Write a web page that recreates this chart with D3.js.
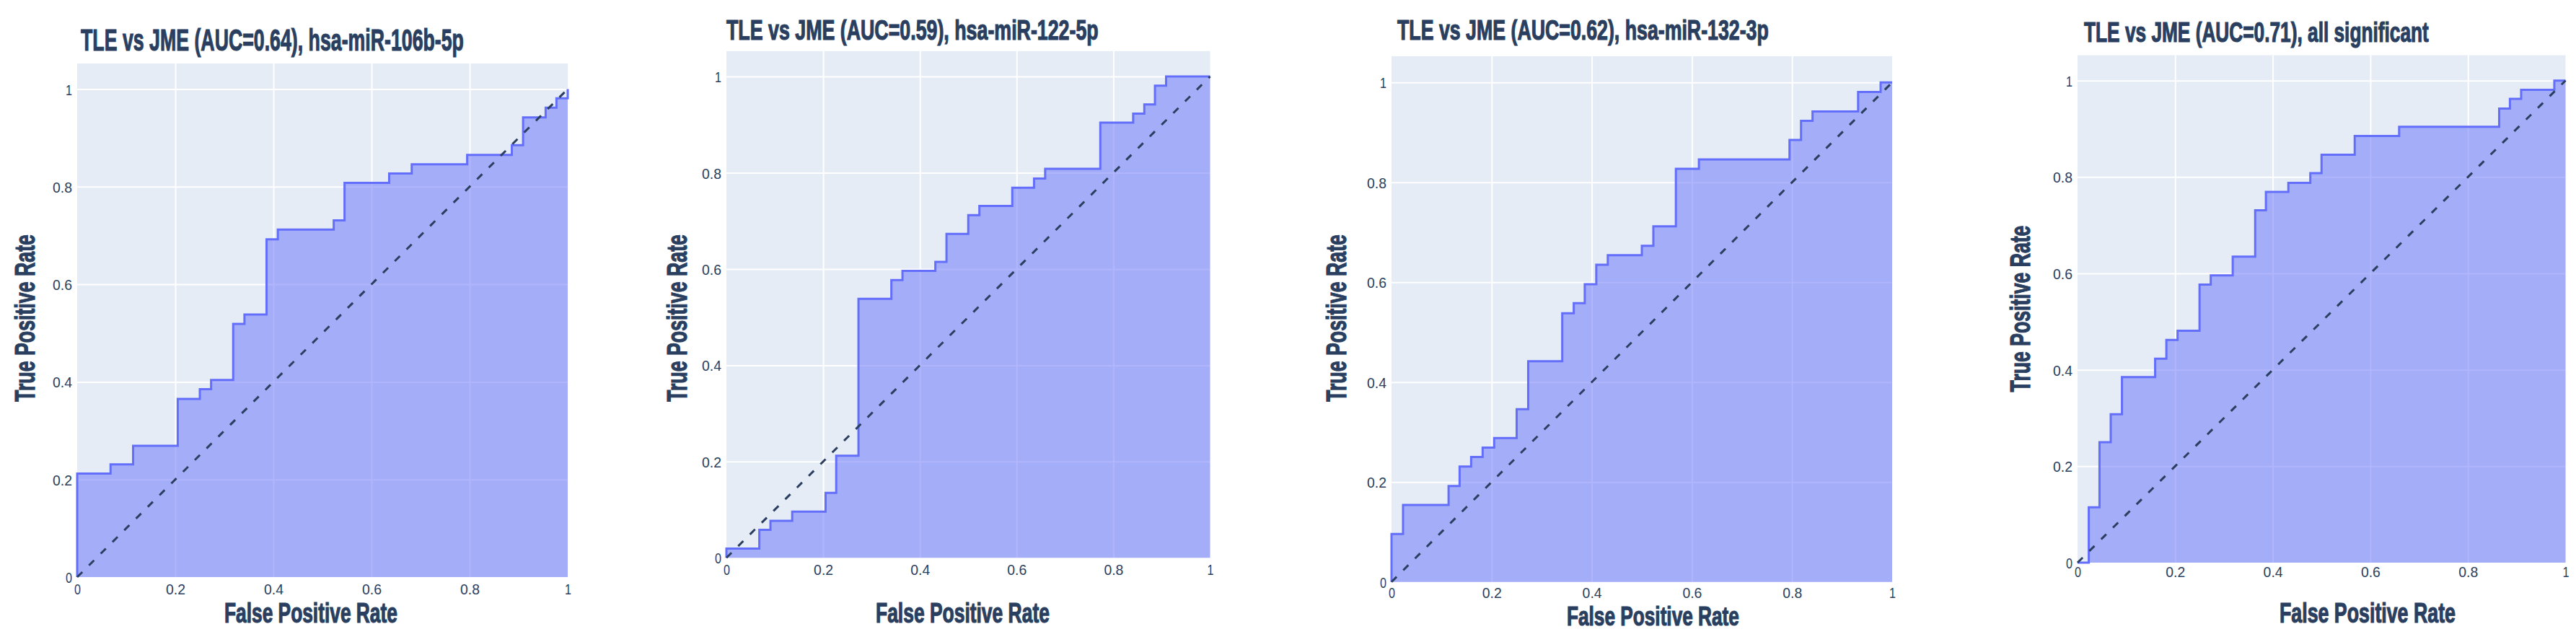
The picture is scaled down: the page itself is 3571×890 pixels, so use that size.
<!DOCTYPE html>
<html>
<head>
<meta charset="utf-8">
<script src="https://cdnjs.cloudflare.com/ajax/libs/d3/7.8.5/d3.min.js"></script>
<style>
  body { margin: 0; background: #fff; }
  svg { display: block; }
</style>
</head>
<body>
<svg id="chart" width="3571" height="890"></svg>
<script>
// Titles of the four ROC panels
const titles = [
  "TLE vs JME (AUC=0.64), hsa-miR-106b-5p",
  "TLE vs JME (AUC=0.59), hsa-miR-122-5p",
  "TLE vs JME (AUC=0.62), hsa-miR-132-3p",
  "TLE vs JME (AUC=0.71), all significant"
];
const xLabel = "False Positive Rate";
const yLabel = "True Positive Rate";
const xTicks = [0, 0.2, 0.4, 0.6, 0.8, 1];
const yTicks = [0, 0.2, 0.4, 0.6, 0.8, 1];

// ROC step points (fpr, tpr)
const fpr1 = [0, 0, 0.068, 0.114, 0.205, 0.25, 0.273, 0.318, 0.341, 0.386, 0.409, 0.523, 0.545, 0.636, 0.682, 0.795, 0.886, 0.909, 0.955, 0.977, 1];
const tpr1 = [0, 0.212, 0.231, 0.269, 0.365, 0.385, 0.404, 0.519, 0.538, 0.692, 0.712, 0.731, 0.808, 0.827, 0.846, 0.865, 0.885, 0.942, 0.962, 0.981, 1];

const fpr2 = [0, 0, 0.068, 0.091, 0.136, 0.205, 0.227, 0.273, 0.341, 0.364, 0.432, 0.455, 0.5, 0.523, 0.591, 0.636, 0.659, 0.773, 0.841, 0.864, 0.886, 0.909, 1];
const tpr2 = [0, 0.019, 0.058, 0.077, 0.096, 0.135, 0.212, 0.538, 0.577, 0.596, 0.615, 0.673, 0.712, 0.731, 0.769, 0.788, 0.808, 0.904, 0.923, 0.942, 0.981, 1, 1];

const fpr3 = [0, 0, 0.023, 0.114, 0.136, 0.159, 0.182, 0.205, 0.25, 0.273, 0.341, 0.364, 0.386, 0.409, 0.432, 0.5, 0.523, 0.568, 0.614, 0.795, 0.818, 0.841, 0.932, 0.977, 1];
const tpr3 = [0, 0.096, 0.154, 0.192, 0.231, 0.25, 0.269, 0.288, 0.346, 0.442, 0.538, 0.558, 0.596, 0.635, 0.654, 0.673, 0.712, 0.827, 0.846, 0.885, 0.923, 0.942, 0.981, 1, 1];

const fpr4 = [0, 0.023, 0.045, 0.068, 0.091, 0.159, 0.182, 0.205, 0.25, 0.273, 0.318, 0.364, 0.386, 0.432, 0.477, 0.5, 0.568, 0.659, 0.864, 0.886, 0.909, 0.977, 1];
const tpr4 = [0, 0.115, 0.25, 0.308, 0.385, 0.423, 0.462, 0.481, 0.577, 0.596, 0.635, 0.731, 0.769, 0.788, 0.808, 0.846, 0.885, 0.904, 0.942, 0.962, 0.981, 1, 1];

const curves = [[fpr1, tpr1], [fpr2, tpr2], [fpr3, tpr3], [fpr4, tpr4]];

// where each panel sits on the page (pixels)
const panels = [
  { left: 107,  right: 787,    bottom: 800,   top1: 123.5, title: { x: 112,  y: 70, w: 531, size: 43 }, yt: { x: 48,   y: 441, w: 232 }, xt: { x: 311,  y: 863, w: 240, size: 38 }, tickOff: 24 },
  { left: 1007, right: 1677.5, bottom: 773.3, top1: 106,   title: { x: 1007, y: 55, w: 516, size: 38 }, yt: { x: 952,  y: 441, w: 232 }, xt: { x: 1214, y: 863, w: 241, size: 38 }, tickOff: 24 },
  { left: 1929, right: 2623,   bottom: 806.7, top1: 114.3, title: { x: 1937, y: 55, w: 515, size: 38 }, yt: { x: 1866, y: 441, w: 232 }, xt: { x: 2172, y: 867, w: 239, size: 37 }, tickOff: 22 },
  { left: 2880, right: 3556.5, bottom: 780,   top1: 111.7, title: { x: 2889, y: 58, w: 478, size: 39 }, yt: { x: 2814, y: 428, w: 231 }, xt: { x: 3160, y: 863, w: 244, size: 38 }, tickOff: 20 }
];

const textColor = '#2a3f5f';
const lineColor = '#636efa';
const fontFamily = 'Liberation Sans, Arial, sans-serif';
const fmt = d3.format('~g');

const svg = d3.select('#chart');

// squeeze a text horizontally to a given width (the source font is very condensed)
function squeeze(sel, width, pre) {
  const w = sel.node().getComputedTextLength();
  sel.attr('transform', `${pre} scale(${width / w},1)`);
}

panels.forEach((p, i) => {
  const [fpr, tpr] = curves[i];
  const data = fpr.map((f, k) => ({ x: f, y: tpr[k] }));

  const x = d3.scaleLinear().domain([0, 1]).range([p.left, p.right]);
  const y = d3.scaleLinear().domain([0, 1]).range([p.bottom, p.top1]);
  const plotTop = y(1.0526);

  const g = svg.append('g');

  // plot background
  g.append('rect')
    .attr('x', x(0))
    .attr('y', plotTop)
    .attr('width', x(1) - x(0))
    .attr('height', y(0) - plotTop)
    .attr('fill', '#E5ECF6');

  // grid
  const gx = g.append('g')
    .attr('transform', `translate(0,${y(0)})`)
    .call(d3.axisBottom(x).tickValues(xTicks.slice(1, -1)).tickSize(-(y(0) - plotTop)).tickFormat(''));
  gx.select('.domain').remove();
  gx.selectAll('text').remove();
  gx.selectAll('line').attr('stroke', '#fff').attr('stroke-width', 2);

  const gy = g.append('g')
    .attr('transform', `translate(${x(0)},0)`)
    .call(d3.axisLeft(y).tickValues(yTicks.slice(1)).tickSize(-(x(1) - x(0))).tickFormat(''));
  gy.select('.domain').remove();
  gy.selectAll('text').remove();
  gy.selectAll('line').attr('stroke', '#fff').attr('stroke-width', 2);

  // ROC area + line
  const area = d3.area()
    .curve(d3.curveStepAfter)
    .x(d => x(d.x))
    .y0(y(0))
    .y1(d => y(d.y));

  const line = d3.line()
    .curve(d3.curveStepAfter)
    .x(d => x(d.x))
    .y(d => y(d.y));

  g.append('path')
    .datum(data)
    .attr('d', area)
    .attr('fill', lineColor)
    .attr('fill-opacity', 0.5);

  g.append('path')
    .datum(data)
    .attr('d', line)
    .attr('fill', 'none')
    .attr('stroke', lineColor)
    .attr('stroke-width', 3);

  // chance diagonal
  g.append('line')
    .attr('x1', x(0)).attr('y1', y(0))
    .attr('x2', x(1)).attr('y2', y(1))
    .attr('stroke', '#2a3f5f')
    .attr('stroke-width', 3)
    .attr('stroke-dasharray', '10,13');

  // tick labels
  const xAxis = g.append('g')
    .attr('transform', `translate(0,${y(0)})`)
    .call(d3.axisBottom(x).tickValues(xTicks).tickSize(0).tickFormat(fmt));
  xAxis.select('.domain').remove();
  xAxis.selectAll('text')
    .attr('dy', null)
    .attr('y', null)
    .attr('fill', textColor)
    .attr('font-family', fontFamily)
    .attr('font-size', 21)
    .each(function (d) { squeeze(d3.select(this), 9 * fmt(d).length, `translate(0,${p.tickOff})`); });

  const yAxis = g.append('g')
    .attr('transform', `translate(${x(0)},0)`)
    .call(d3.axisLeft(y).tickValues(yTicks).tickSize(0).tickFormat(fmt));
  yAxis.select('.domain').remove();
  yAxis.selectAll('text')
    .attr('x', null)
    .attr('dy', '0.36em')
    .attr('fill', textColor)
    .attr('font-family', fontFamily)
    .attr('font-size', 21)
    .each(function (d) { squeeze(d3.select(this), 9 * fmt(d).length, 'translate(-7,0)'); });

  // titles
  const t = g.append('text')
    .attr('fill', textColor)
    .attr('stroke', textColor)
    .attr('stroke-width', 1.2)
    .attr('font-family', fontFamily)
    .attr('font-weight', 'bold')
    .attr('font-size', p.title.size)
    .text(titles[i]);
  squeeze(t, p.title.w, `translate(${p.title.x},${p.title.y})`);

  const xt = g.append('text')
    .attr('fill', textColor)
    .attr('stroke', textColor)
    .attr('stroke-width', 1.2)
    .attr('font-family', fontFamily)
    .attr('font-weight', 'bold')
    .attr('font-size', p.xt.size)
    .text(xLabel);
  squeeze(xt, p.xt.w, `translate(${p.xt.x},${p.xt.y})`);

  const yt = g.append('text')
    .attr('text-anchor', 'middle')
    .attr('fill', textColor)
    .attr('stroke', textColor)
    .attr('stroke-width', 1.2)
    .attr('font-family', fontFamily)
    .attr('font-weight', 'bold')
    .attr('font-size', 39)
    .text(yLabel);
  squeeze(yt, p.yt.w, `translate(${p.yt.x},${p.yt.y}) rotate(-90)`);
});
</script>
</body>
</html>
